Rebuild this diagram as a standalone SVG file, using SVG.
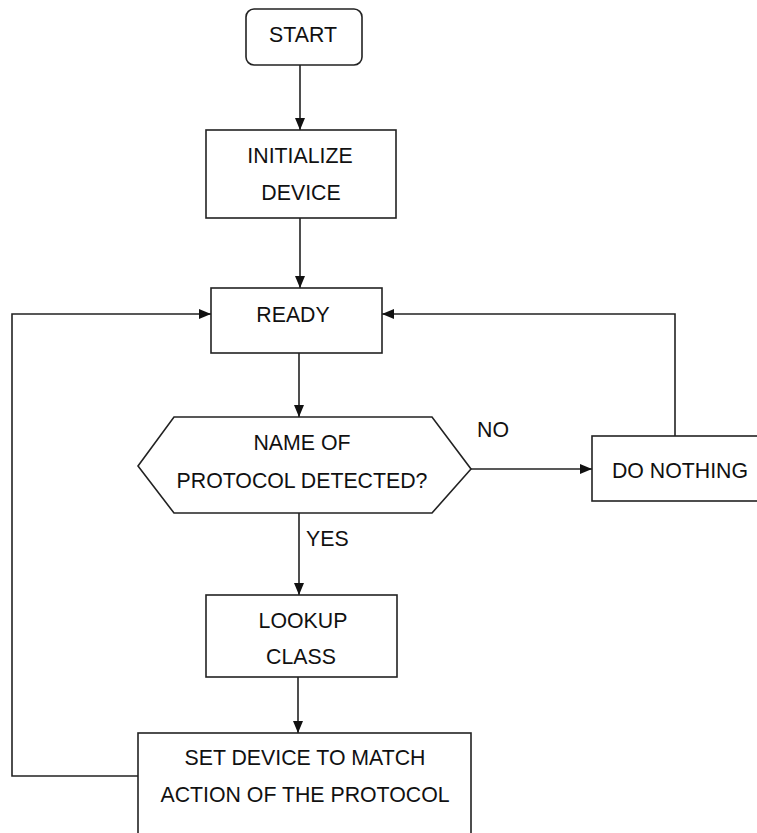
<svg xmlns="http://www.w3.org/2000/svg" width="757" height="833" viewBox="0 0 757 833">
<defs>
<marker id="arr" markerWidth="12" markerHeight="10" refX="12" refY="5" orient="auto" markerUnits="userSpaceOnUse">
<path d="M0,0 L12,5 L0,10 Z" fill="#111"/>
</marker>
<style>
.box{fill:#fff;stroke:#222;stroke-width:1.6}
.t{font-family:"Liberation Sans",Arial,sans-serif;font-size:21.3px;fill:#111;text-anchor:middle}
.l{font-family:"Liberation Sans",Arial,sans-serif;font-size:21.3px;fill:#111}
.c{fill:none;stroke:#222;stroke-width:1.6}
</style>
</defs>
<rect width="757" height="833" fill="#fff"/>
<g id="connectors">
<path class="c" d="M300,65 V130" marker-end="url(#arr)"/>
<path class="c" d="M300,218 V288" marker-end="url(#arr)"/>
<path class="c" d="M299,353 V417" marker-end="url(#arr)"/>
<path class="c" d="M471,469 H592" marker-end="url(#arr)"/>
<path class="c" d="M675,436 V314 H382" marker-end="url(#arr)"/>
<path class="c" d="M299,513 V595" marker-end="url(#arr)"/>
<path class="c" d="M298,677 V733" marker-end="url(#arr)"/>
<path class="c" d="M138,776 H12 V314 H211" marker-end="url(#arr)"/>
<text class="l" x="477" y="437">NO</text>
<text class="l" x="306" y="546">YES</text>
</g>
<g id="start">
<rect class="box" x="246" y="9" width="116" height="56" rx="8"/>
<text class="t" x="303" y="42">START</text>
</g>
<g id="initialize">
<rect class="box" x="206" y="130" width="190" height="88"/>
<text class="t" x="300" y="163">INITIALIZE</text>
<text class="t" x="301" y="200">DEVICE</text>
</g>
<g id="ready">
<rect class="box" x="211" y="288" width="171" height="65"/>
<text class="t" x="293" y="322">READY</text>
</g>
<g id="decision">
<polygon class="box" points="138,466 174,417 432,417 471,469 432,513 174,513"/>
<text class="t" x="302" y="450">NAME OF</text>
<text class="t" x="302" y="488">PROTOCOL DETECTED?</text>
</g>
<g id="donothing">
<rect class="box" x="592" y="436" width="170" height="65"/>
<text class="t" x="680" y="478">DO NOTHING</text>
</g>
<g id="lookup">
<rect class="box" x="206" y="595" width="191" height="82"/>
<text class="t" x="303" y="628">LOOKUP</text>
<text class="t" x="301" y="664">CLASS</text>
</g>
<g id="setdevice">
<rect class="box" x="138" y="733" width="333" height="110"/>
<text class="t" x="305" y="765">SET DEVICE TO MATCH</text>
<text class="t" x="305" y="802">ACTION OF THE PROTOCOL</text>
</g>
</svg>
